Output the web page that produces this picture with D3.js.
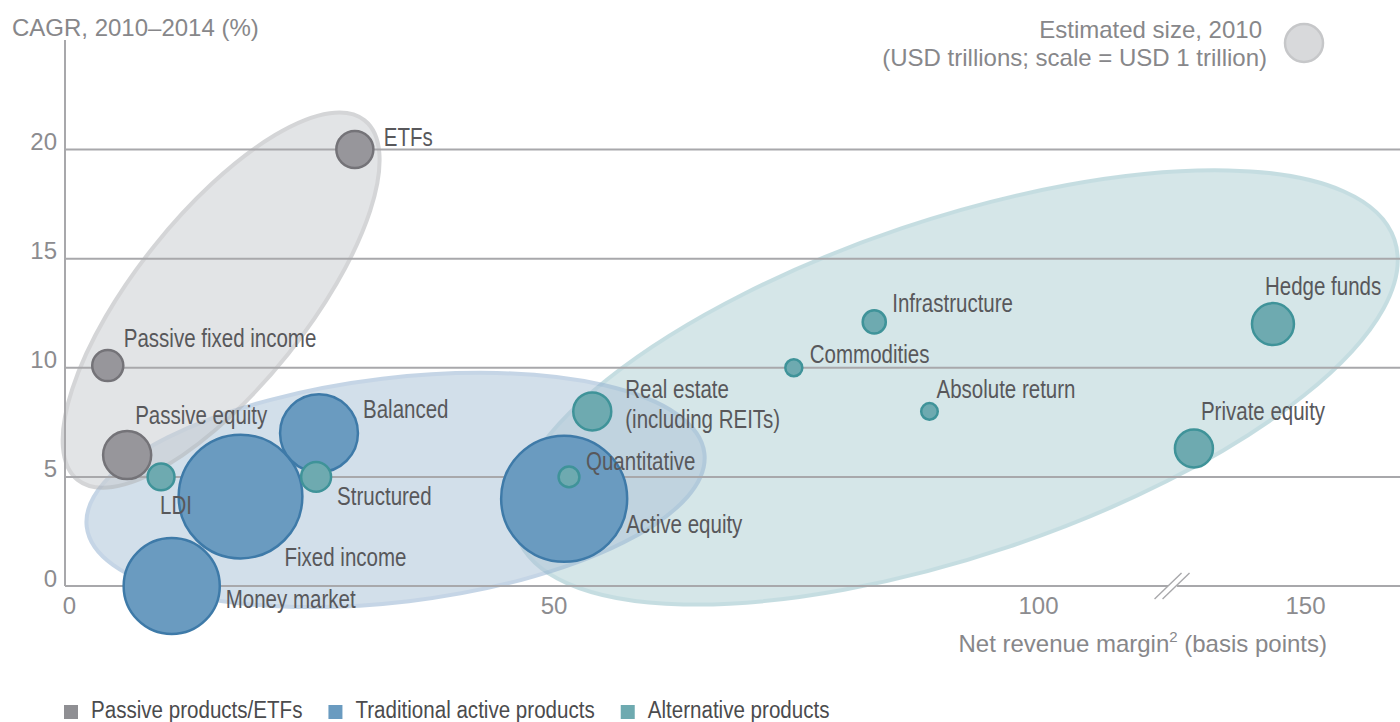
<!DOCTYPE html>
<html><head><meta charset="utf-8">
<script src="https://cdn.jsdelivr.net/npm/d3@7"></script>
<style>
body{margin:0;background:#fff;}
svg{display:block;}
</style></head><body>
<svg id="chart" width="1400" height="722"></svg>
<script>
// ---------- data ----------
const products = ["ETFs","Passive fixed income","Passive equity","LDI","Fixed income","Balanced","Structured","Money market","Active equity","Quantitative","Real estate","Infrastructure","Commodities","Absolute return","Hedge funds","Private equity"];
const groups   = ["passive","passive","passive","alternative","traditional","traditional","alternative","traditional","traditional","alternative","alternative","alternative","alternative","alternative","alternative","alternative"];
const netMargin = [29.5,4,6,9.5,17.7,25.8,25.5,10.6,51.1,51.6,54,83.1,74.8,88.8,144,129.2];   // basis points
const cagr      = [20,10.1,6,5,4.1,7,5,0,4,5,8,12.1,10,8,12,6.3];                          // %
const size2010  = [0.95,0.67,1.6,0.5,10.6,4.2,0.62,6.4,11,0.3,1.0,0.37,0.2,0.19,1.22,1.0];  // USD trillions
const xTicks = [0,50,100,150];
const yTicks = [0,5,10,15,20];
const legendGroups = ["passive","traditional","alternative"];
const legendLabels = ["Passive products/ETFs","Traditional active products","Alternative products"];
const sizeLegendValue = 1;

// ---------- layout / style ----------
const REG = '"Liberation Sans",Arial,sans-serif';
const NARROW_SCALE = 0.82;   // emulate a condensed face
const LEGEND_SCALE = 0.84;
const fillC   = {passive:"#97969b", traditional:"#6a9bc0", alternative:"#6eaab0"};
const strokeC = {passive:"#747378", traditional:"#3e7aa8", alternative:"#3f9399"};
const legendC = {passive:"#8f8f93", traditional:"#6a9bc0", alternative:"#6eaab0"};
// label offsets (px) relative to bubble centres
const labelOffsets = {
  "ETFs":[29,-4], "Passive fixed income":[16,-19], "Passive equity":[8,-31], "LDI":[-1,37],
  "Fixed income":[44,69], "Balanced":[44,-15], "Structured":[21,28], "Money market":[54,22],
  "Active equity":[62,34], "Quantitative":[17,-7], "Real estate":[33,-13], "Infrastructure":[18,-10],
  "Commodities":[16,-5], "Absolute return":[7,-13], "Hedge funds":[-8,-29], "Private equity":[7,-29]
};
const labelLines = {"Real estate":["Real estate","(including REITs)"]};

const svg = d3.select("#chart");
const x = d3.scaleLinear().domain([0,100,150]).range([69,1038,1305]);
const y = d3.scaleLinear().domain([0,20]).range([586,149.5]);
const r = d3.scaleSqrt().domain([0,1]).range([0,19]);
const axisX = x(0)-4, rightEdge = 1400, breakVal = 125.1;

// group hulls (centre in data units, semi-axes in px, rotation in degrees)
const hulls = [
  {g:"alternative", cx:91.5, cy:9.1, a:463, b:168, rot:18.6, fill:"rgb(179,210,215)", stroke:"rgb(151,195,202)"},
  {g:"traditional", cx:33.7, cy:4.4, a:311, b:112, rot:6.8, fill:"rgb(175,197,217)", stroke:"rgb(150,180,210)"},
  {g:"passive",     cx:15.7, cy:13.1, a:230, b:86, rot:51.4, fill:"rgb(204,206,210)", stroke:"rgb(178,180,183)"}
];
svg.append("g").selectAll("ellipse").data(hulls).join("ellipse")
  .attr("cx",0).attr("cy",0).attr("rx",d=>d.a).attr("ry",d=>d.b)
  .attr("transform",d=>`translate(${x(d.cx)},${y(d.cy)}) rotate(${-d.rot})`)
  .attr("fill",d=>d.fill).attr("stroke",d=>d.stroke).attr("stroke-width",4)
  .attr("opacity",0.55);

// gridlines
svg.append("g").selectAll("line").data(yTicks.filter(d=>d>0)).join("line")
  .attr("x1",axisX).attr("x2",rightEdge).attr("y1",d=>y(d)).attr("y2",d=>y(d))
  .attr("stroke","#a8a8ab").attr("stroke-width",2);

// y axis line
svg.append("line").attr("x1",axisX).attr("x2",axisX).attr("y1",40).attr("y2",y(0))
  .attr("stroke","#a8a8ab").attr("stroke-width",2);
// x axis line with break
const bx = x(breakVal);
svg.append("line").attr("x1",axisX).attr("x2",bx-4).attr("y1",y(0)).attr("y2",y(0)).attr("stroke","#a8a8ab").attr("stroke-width",2);
svg.append("line").attr("x1",bx+5).attr("x2",rightEdge).attr("y1",y(0)).attr("y2",y(0)).attr("stroke","#a8a8ab").attr("stroke-width",2);
[-4,4].forEach(o=>{
  svg.append("line").attr("x1",bx+o-13.5).attr("y1",y(0)+13).attr("x2",bx+o+13.5).attr("y2",y(0)-13)
    .attr("stroke","#a8a8ab").attr("stroke-width",1.4);
});

// tick labels via d3 axes
const gx = svg.append("g").attr("transform",`translate(0,${y(0)})`)
  .call(d3.axisBottom(x).tickValues(xTicks).tickSize(0).tickPadding(11).tickFormat(d3.format("d")));
gx.select(".domain").remove();
const gy = svg.append("g").attr("transform",`translate(${axisX},0)`)
  .call(d3.axisLeft(y).tickValues(yTicks).tickSize(0).tickPadding(8).tickFormat(d3.format("d")));
gy.select(".domain").remove();
gy.selectAll("text").attr("dy","0.0em");
[gx,gy].forEach(g=>g.attr("font-family",REG).attr("font-size",24).selectAll("text").attr("fill","#8c8c8f"));

// bubbles
const data = products.map((p,i)=>({name:p, g:groups[i], x:netMargin[i], y:cagr[i], s:size2010[i]}));
const order = data.slice().sort((a,b)=>b.s-a.s);
svg.append("g").selectAll("circle").data(order).join("circle")
  .attr("cx",d=>x(d.x)).attr("cy",d=>y(d.y)).attr("r",d=>r(d.s))
  .attr("fill",d=>fillC[d.g]).attr("stroke",d=>strokeC[d.g]).attr("stroke-width",2.5);

// labels (condensed look via horizontal scale)
const lab = svg.append("g").attr("font-family",REG).attr("font-size",25).attr("fill","#58585b");
data.forEach(d=>{
  const o = labelOffsets[d.name];
  const lines = labelLines[d.name] || [d.name];
  const t = lab.append("text")
    .attr("transform",`translate(${x(d.x)+o[0]},${y(d.y)+o[1]}) scale(${NARROW_SCALE},1)`);
  lines.forEach((l,i)=>t.append("tspan").attr("x",0).attr("dy",i?30:0).text(l));
});

// axis titles
svg.append("text").attr("x",12).attr("y",36).attr("font-family",REG).attr("font-size",24)
  .attr("fill","#87878a").text("CAGR, 2010–2014 (%)");
const xt = svg.append("text").attr("x",1327).attr("y",652).attr("text-anchor","end")
  .attr("font-family",REG).attr("font-size",24).attr("fill","#87878a");
xt.append("tspan").text("Net revenue margin");
xt.append("tspan").attr("font-size",15).attr("dy",-10).text("2");
xt.append("tspan").attr("dy",10).text(" (basis points)");

// size legend
svg.append("circle").attr("cx",1304).attr("cy",43).attr("r",r(sizeLegendValue))
  .attr("fill","#d8d9db").attr("stroke","#c6c7c9").attr("stroke-width",2.5);
const sl = svg.append("text").attr("text-anchor","end").attr("font-family",REG).attr("font-size",24).attr("fill","#87878a");
sl.append("tspan").attr("x",1262).attr("y",38).text("Estimated size, 2010");
sl.append("tspan").attr("x",1267).attr("y",66).text("(USD trillions; scale = USD 1 trillion)");

// category legend
let lx = 64;
const lg = svg.append("g");
legendGroups.forEach((g,i)=>{
  lg.append("rect").attr("x",lx).attr("y",705).attr("width",14).attr("height",14).attr("fill",legendC[g]);
  const t = lg.append("text").attr("transform",`translate(${lx+27},718) scale(${LEGEND_SCALE},1)`)
    .attr("font-family",REG).attr("font-size",24.5).attr("fill","#4b4b4d").text(legendLabels[i]);
  lx = lx + 27 + t.node().getComputedTextLength()*LEGEND_SCALE + 26;
});
</script>
</body></html>
